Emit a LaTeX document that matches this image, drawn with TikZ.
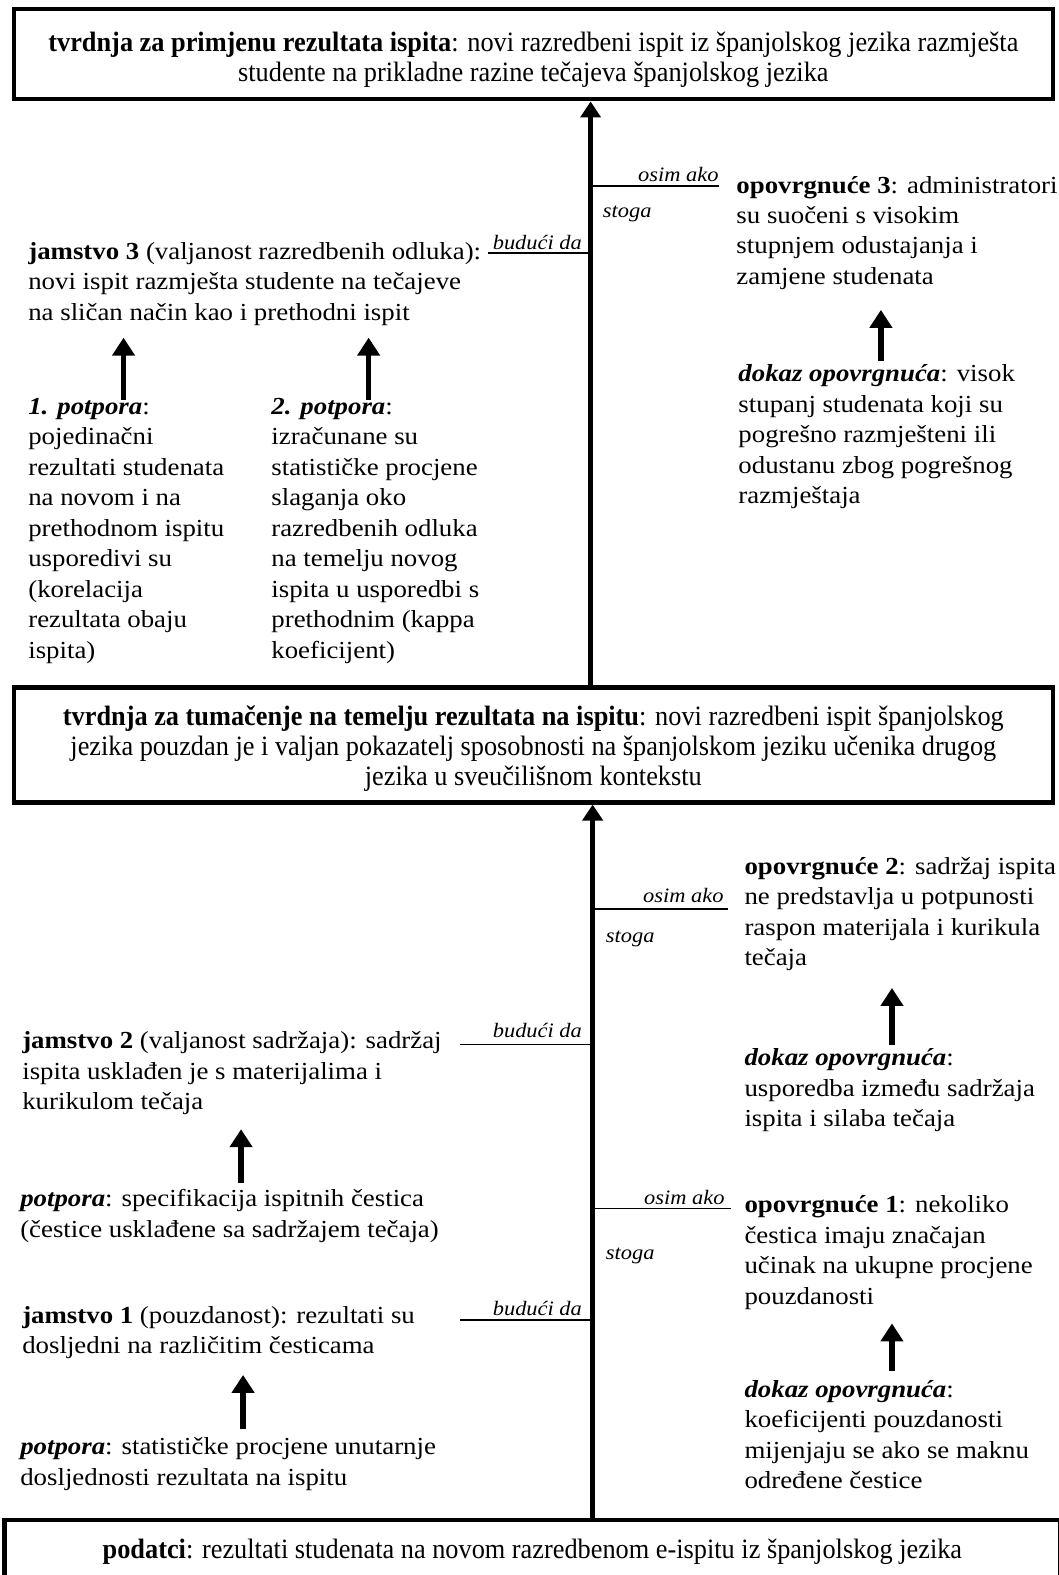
\documentclass[tikz,border=0pt]{standalone}
\usepackage{fontspec}
\setmainfont{Liberation Serif}
\newfontfamily\bodyFont{Liberation Serif}[FakeStretch=1.095]
\newfontfamily\claimFont{Liberation Serif}[FakeStretch=0.94]
\usetikzlibrary{arrows.meta}
\tikzstyle{diagram} = [x=1.0047pt, y=-1.0047pt]
\tikzstyle{claimBox} = [draw, line width=4.5pt, inner sep=0pt]
\tikzstyle{claimText} = [align=center, inner sep=0pt, font=\claimFont\fontsize{28}{30}\selectfont]
\tikzstyle{textBlock} = [anchor=north west, align=left, inner sep=0pt, font=\bodyFont\fontsize{24.5}{30.5}\selectfont]
\tikzstyle{linkLabel} = [inner sep=0pt, font=\bodyFont\itshape\fontsize{20.5}{25}\selectfont]
\tikzstyle{spineArrow} = [line width=5.5pt, -{Triangle[width=20pt,length=16pt]}]
\tikzstyle{supportArrow} = [line width=5.5pt, -{Triangle[width=22pt,length=18pt]}]
\tikzstyle{branchLine} = [line width=1.4pt]
\newcommand{\bi}[1]{\textbf{\textit{#1}}}

\begin{document}
\begin{tikzpicture}[diagram]
  \useasboundingbox (0,0) rectangle (1054,1568);

  \node[claimBox, minimum width=1039pt, minimum height=90pt] (application) at (531,54) {};
  \node[claimText, yshift=-6pt] (applicationText) at (application.center)
    {\textbf{tvrdnja za primjenu rezultata ispita}: novi razredbeni ispit iz španjolskog jezika razmješta\\
     studente na prikladne razine tečajeva španjolskog jezika};
  \node[claimBox, minimum width=1039pt, minimum height=115pt] (interpretation) at (531,741.5) {};
  \node[claimText, yshift=-4pt] (interpretationText) at (interpretation.center)
    {\textbf{tvrdnja za tumačenje na temelju rezultata na ispitu}: novi razredbeni ispit španjolskog\\
     jezika pouzdan je i valjan pokazatelj sposobnosti na španjolskom jeziku učenika drugog\\
     jezika u sveučilišnom kontekstu};
  \node[claimBox, minimum width=1056pt, minimum height=70pt] (data) at (530,1548) {};
  \node[claimText] (dataText) at (530,1545)
    {\textbf{podatci}: rezultati studenata na novom razredbenom e-ispitu iz španjolskog jezika};

  \coordinate (upperSpine) at (588,0);
  \coordinate (lowerSpine) at (590,0);
  \draw[spineArrow] (interpretation.north -| upperSpine) -- (application.south -| upperSpine);
  \draw[spineArrow] (data.north -| lowerSpine) -- (interpretation.south -| lowerSpine);

  \node[textBlock] (warrant3) at (28,241)
    {\textbf{jamstvo 3} (valjanost razredbenih odluka):\\
     novi ispit razmješta studente na tečajeve\\
     na sličan način kao i prethodni ispit};
  \node[textBlock] (backing1) at (28,396)
    {\bi{1. potpora}:\\ pojedinačni\\ rezultati studenata\\ na novom i na\\ prethodnom ispitu\\
     usporedivi su\\ (korelacija\\ rezultata obaju\\ ispita)};
  \node[textBlock] (backing2) at (270,396)
    {\bi{2. potpora}:\\ izračunane su\\ statističke procjene\\ slaganja oko\\ razredbenih odluka\\
     na temelju novog\\ ispita u usporedbi s\\ prethodnim (kappa\\ koeficijent)};
  \node[textBlock] (rebuttal3) at (733,175)
    {\textbf{opovrgnuće 3}: administratori\\ su suočeni s visokim\\ stupnjem odustajanja i\\ zamjene studenata};
  \node[textBlock] (evidence3) at (735,363)
    {\bi{dokaz opovrgnuća}: visok\\ stupanj studenata koji su\\ pogrešno razmješteni ili\\
     odustanu zbog pogrešnog\\ razmještaja};

  \draw[supportArrow, shorten <=-2pt, shorten >=12pt] (backing1.north -| 123,0) -- (warrant3.south -| 123,0);
  \draw[supportArrow, shorten <=-2pt, shorten >=12pt] (backing2.north -| 367,0) -- (warrant3.south -| 367,0);
  \draw[supportArrow, shorten <=4pt, shorten >=20pt] (evidence3.north -| 877,0) -- (rebuttal3.south -| 877,0);

  \coordinate (since3) at (486,252);
  \coordinate (unless3) at (716,185);
  \draw[branchLine] (since3) -- (since3 -| upperSpine) node[linkLabel, pos=1, anchor=south east, xshift=-8pt, yshift=3pt] {budući da};
  \draw[branchLine] (unless3 -| upperSpine) -- (unless3) node[linkLabel, pos=1, anchor=south east, yshift=3pt] {osim ako};
  \node[linkLabel, anchor=west] (therefore3) at (600,213) {stoga};

  \node[textBlock] (warrant2) at (22,1027)
    {\textbf{jamstvo 2} (valjanost sadržaja): sadržaj\\ ispita usklađen je s materijalima i\\ kurikulom tečaja};
  \node[textBlock] (backing3) at (20,1184)
    {\bi{potpora}: specifikacija ispitnih čestica\\ (čestice usklađene sa sadržajem tečaja)};
  \node[textBlock] (warrant1) at (22,1300)
    {\textbf{jamstvo 1} (pouzdanost): rezultati su\\ dosljedni na različitim česticama};
  \node[textBlock] (backing4) at (20,1431)
    {\bi{potpora}: statističke procjene unutarnje\\ dosljednosti rezultata na ispitu};
  \node[textBlock] (rebuttal2) at (741,853)
    {\textbf{opovrgnuće 2}: sadržaj ispita\\ ne predstavlja u potpunosti\\ raspon materijala i kurikula\\ tečaja};
  \node[textBlock] (evidence2) at (741,1044)
    {\bi{dokaz opovrgnuća}:\\ usporedba između sadržaja\\ ispita i silaba tečaja};
  \node[textBlock] (rebuttal1) at (741,1190)
    {\textbf{opovrgnuće 1}: nekoliko\\ čestica imaju značajan\\ učinak na ukupne procjene\\ pouzdanosti};
  \node[textBlock] (evidence1) at (741,1374)
    {\bi{dokaz opovrgnuća}:\\ koeficijenti pouzdanosti\\ mijenjaju se ako se maknu\\ određene čestice};

  \draw[supportArrow, shorten <=6pt, shorten >=14pt] (backing3.north -| 240,0) -- (warrant2.south -| 240,0);
  \draw[supportArrow, shorten <=8pt, shorten >=16pt] (backing4.north -| 242,0) -- (warrant1.south -| 242,0);
  \draw[supportArrow, shorten <=4pt, shorten >=17pt] (evidence2.north -| 888,0) -- (rebuttal2.south -| 888,0);
  \draw[supportArrow, shorten <=9pt, shorten >=14pt] (evidence1.north -| 888,0) -- (rebuttal1.south -| 888,0);

  \coordinate (since2) at (458,1040);
  \coordinate (unless2) at (725,905);
  \coordinate (since1) at (458,1314);
  \coordinate (unless1) at (728,1203);
  \draw[branchLine] (since2) -- (since2 -| lowerSpine) node[linkLabel, pos=1, anchor=south east, xshift=-10pt, yshift=6pt] {budući da};
  \draw[branchLine] (unless2 -| lowerSpine) -- (unless2) node[linkLabel, pos=1, anchor=south east, xshift=-4pt, yshift=6pt] {osim ako};
  \draw[branchLine] (since1) -- (since1 -| lowerSpine) node[linkLabel, pos=1, anchor=south east, xshift=-10pt, yshift=3pt] {budući da};
  \draw[branchLine] (unless1 -| lowerSpine) -- (unless1) node[linkLabel, pos=1, anchor=south east, xshift=-6pt, yshift=3pt] {osim ako};
  \node[linkLabel, anchor=west] (therefore2) at (603,935) {stoga};
  \node[linkLabel, anchor=west] (therefore1) at (603,1250) {stoga};
\end{tikzpicture}
\end{document}
